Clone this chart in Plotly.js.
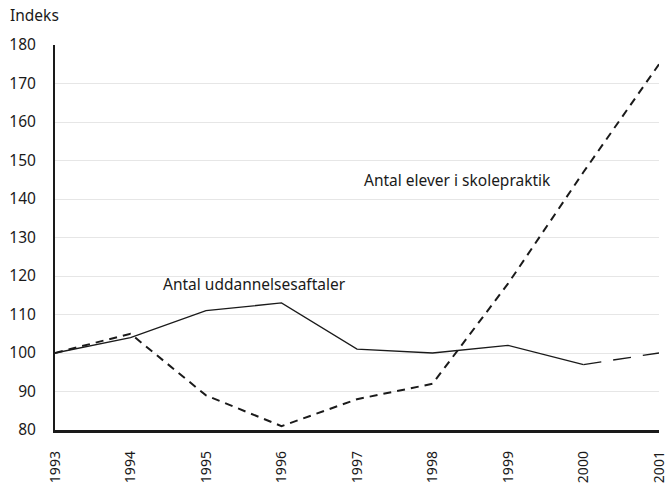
<!DOCTYPE html>
<html>
<head>
<meta charset="utf-8">
<script src="https://cdn.plot.ly/plotly-3.0.1.min.js"></script>
<style>body{margin:0;padding:0;background:#fff;} #chart{width:668px;height:487px;}</style>
</head>
<body>
<div id="chart"></div>
<script>
const years = [1993, 1994, 1995, 1996, 1997, 1998, 1999, 2000, 2001];
const aftaler = [100, 104, 111, 113, 101, 100, 102, 97, 100];
const elever = [100, 105, 89, 81, 88, 92, 118, 147, 175];
const yTicks = [80, 90, 100, 110, 120, 130, 140, 150, 160, 170, 180];
const labelAftaler = "Antal uddannelsesaftaler";
const labelElever = "Antal elever i skolepraktik";

const solidYears = years.slice(0, 8), solidVals = aftaler.slice(0, 8);
const tailYears = years.slice(7), tailVals = aftaler.slice(7);

const traces = [
  {x: solidYears, y: solidVals, mode: "lines", line: {color: "#1a1a1a", width: 1.3}, hoverinfo: "skip"},
  {x: tailYears, y: tailVals, mode: "lines", line: {color: "#1a1a1a", width: 1.3, dash: "18px,12px"}, hoverinfo: "skip"},
  {x: years, y: elever, mode: "lines", line: {color: "#1a1a1a", width: 2, dash: "8px,6px"}, hoverinfo: "skip"}
];

const layout = {
  width: 668, height: 487,
  margin: {l: 55, r: 9, t: 45, b: 57},
  paper_bgcolor: "#fff", plot_bgcolor: "#fff",
  showlegend: false,
  font: {family: "Noto Sans, DejaVu Sans, sans-serif", size: 15.5, color: "#1a1a1a"},
  xaxis: {
    range: [1993, 2001], tickvals: years, ticktext: years.map(String),
    tickangle: -90, showgrid: false, zeroline: false,
    showline: true, linecolor: "#1a1a1a", linewidth: 2.5,
    ticks: "outside", ticklen: 13, tickcolor: "rgba(0,0,0,0)", tickfont: {size: 14},
    automargin: false
  },
  yaxis: {
    range: [80, 180], tickvals: yTicks, showgrid: true, gridcolor: "#e6e6e6", gridwidth: 1,
    zeroline: false, showline: true, linecolor: "#1a1a1a", linewidth: 2,
    ticks: "", ticklabelstandoff: 14, tickfont: {size: 15.5}, automargin: false
  },
  annotations: [
    {xref: "paper", yref: "paper", x: -0.078, y: 1.045, xanchor: "left", yanchor: "bottom",
     text: "Indeks", showarrow: false, font: {size: 15.5}},
    {xref: "x", yref: "y", x: 1994.4, y: 114.5, xanchor: "left", yanchor: "bottom",
     text: labelAftaler, showarrow: false, font: {size: 15.5}},
    {xref: "x", yref: "y", x: 1997.07, y: 141.5, xanchor: "left", yanchor: "bottom",
     text: labelElever, showarrow: false, font: {size: 15.5}}
  ]
};

Plotly.newPlot("chart", traces, layout, {displayModeBar: false, staticPlot: true});
</script>
</body>
</html>
